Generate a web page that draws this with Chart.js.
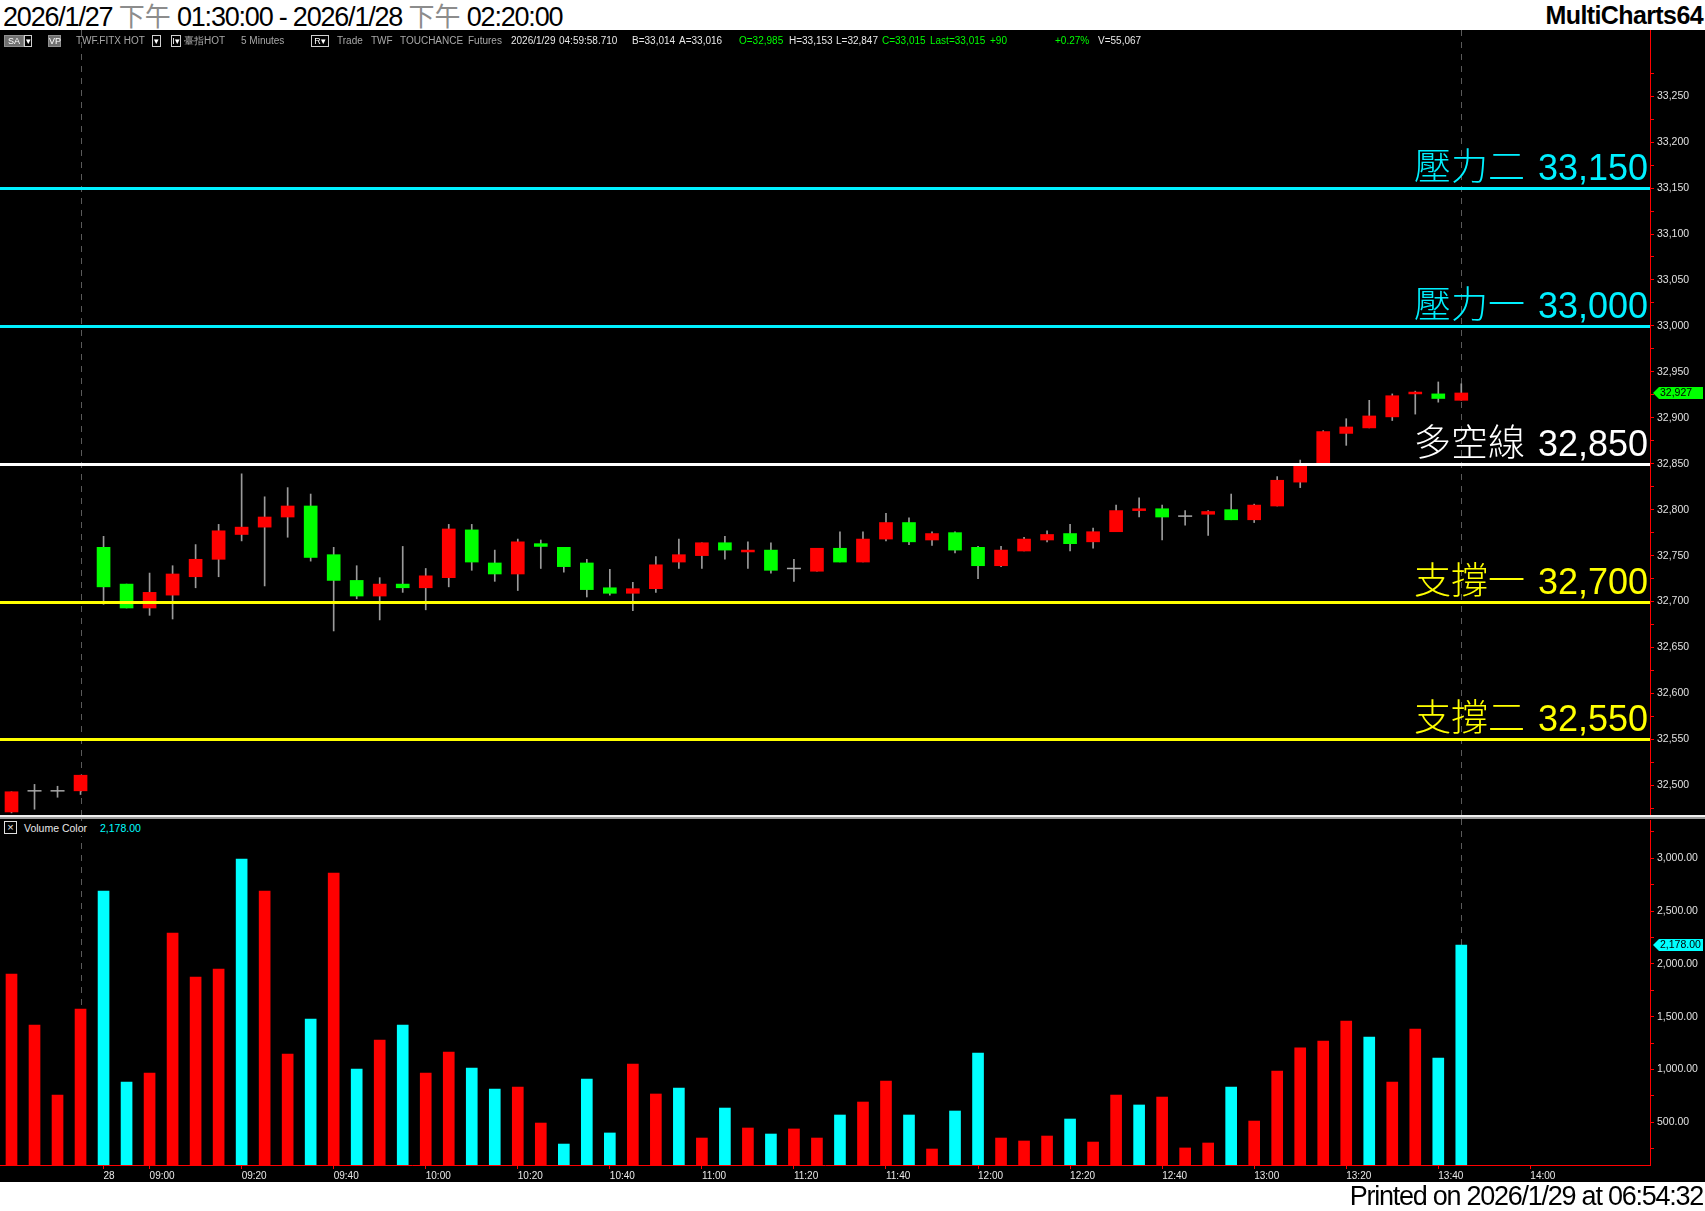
<!DOCTYPE html>
<html lang="zh-Hant">
<head>
<meta charset="utf-8">
<title>TWF.FITX HOT 5 Minutes</title>
<script src="https://cdn.jsdelivr.net/npm/chart.js@4.4.1/dist/chart.umd.min.js"></script>
<style>
  html, body { margin: 0; padding: 0; background: #fff; }
  #page { position: relative; width: 1705px; height: 1211px; overflow: hidden; background: #fff;
          font-family: "Liberation Sans", Arial, sans-serif; }
  .cjk { font-family: "Noto Sans CJK TC", "Noto Sans CJK SC", sans-serif; }
  #title { position: absolute; left: 3px; top: 0; font-size: 27px; line-height: 30px; color: #000;
           letter-spacing: -1.2px; white-space: nowrap; }
  #title .pm { color: #8c8c8c; font-size: 26px; letter-spacing: 0; }
  #brand { position: absolute; right: 2px; top: 0; font-size: 25px; line-height: 30px; font-weight: bold;
           letter-spacing: -0.6px; color: #000; }
  #black { position: absolute; left: 0; top: 30px; width: 1705px; height: 1152px; background: #000; }
  #toolbar { position: absolute; left: 0; top: 34px; width: 1650px; height: 14px; font-size: 10px;
             line-height: 14px; white-space: nowrap; }
  #toolbar span { position: absolute; top: 0; }
  #toolbar .box { top: 1px; height: 10px; line-height: 10px; font-size: 9px; text-align: center;
                  border: 1px solid #d0d0d0; color: #fff; }
  #toolbar .fill { background: #707070; border-color: #909090; }
  canvas { position: absolute; left: 0; }
  #priceCanvas { top: 30px; }
  #volCanvas { top: 819px; }
  #sep1 { position: absolute; left: 0; top: 815px; width: 1705px; height: 2px; background: #f0f0f0; }
  #sep2 { position: absolute; left: 0; top: 817px; width: 1705px; height: 2px; background: #9a9a9a; }
  #volLabel { position: absolute; left: 0; top: 821px; height: 15px; width: 150px; background: #000;
              font-size: 10.5px; line-height: 14px; color: #e8e8e8; }
  #volLabel span { position: absolute; top: 0; }
  #volLabel .xbox { left: 4px; top: 0; width: 11px; height: 11px; border: 1px solid #e0e0e0;
                    line-height: 11px; text-align: center; font-size: 11px; }
  #footer { position: absolute; right: 2px; top: 1182px; font-size: 27px; line-height: 29px;
            letter-spacing: -1.25px; color: #000; white-space: nowrap; }
</style>
</head>
<body>
<div id="page">
  <div id="title">2026/1/27 <span class="cjk pm">下午</span> 01:30:00 - 2026/1/28 <span class="cjk pm">下午</span> 02:20:00</div>
  <div id="brand">MultiCharts64</div>
  <div id="black"></div>
  <canvas id="priceCanvas" width="1705" height="785"></canvas>
  <canvas id="volCanvas" width="1705" height="363"></canvas>
  <div id="sep1"></div>
  <div id="sep2"></div>
  <div id="toolbar">
    <span class="box fill" style="left:4px;width:18px;">SA</span>
    <span class="box" style="left:24px;width:6px;">&#9662;</span>
    <span class="box fill" style="left:48px;width:11px;">VP</span>
    <span class="box" style="left:152px;width:7px;">&#9662;</span>
    <span class="box" style="left:171px;width:8px;">I&#9662;</span>
    <span class="box" style="left:311px;width:16px;">R&#9662;</span>
  </div>
  <div id="volLabel">
    <span class="xbox">&#215;</span>
    <span style="left:24px;">Volume Color</span>
    <span id="volLast" style="left:100px;color:#00ffff;"></span>
  </div>
  <div id="footer">Printed on 2026/1/29 at 06:54:32</div>
</div>
<script>
// 5 分 K：前一日最後 4 根 (13:30-13:45) + 1/28 08:50-13:45
const opens = [32471, 32494, 32494, 32494, 32759, 32719, 32693, 32707, 32727, 32746,
               32773, 32781, 32792, 32804, 32751, 32723, 32706, 32719, 32715, 32726,
               32778, 32742, 32730, 32763, 32759, 32742, 32715, 32709, 32714, 32743,
               32750, 32764, 32754, 32756, 32736, 32733, 32758, 32743, 32768, 32786,
               32767, 32775, 32759, 32739, 32755, 32767, 32774, 32765, 32776, 32799,
               32801, 32793, 32795, 32800, 32789, 32804, 32830, 32850, 32883, 32889,
               32901, 32926, 32926, 32919];
const highs = [32493, 32501, 32499, 32511, 32771, 32719, 32731, 32739, 32762, 32784,
               32839, 32814, 32824, 32817, 32759, 32739, 32726, 32760, 32736, 32784,
               32784, 32756, 32768, 32767, 32759, 32746, 32735, 32721, 32749, 32768,
               32764, 32771, 32765, 32764, 32746, 32758, 32776, 32776, 32796, 32791,
               32776, 32776, 32760, 32760, 32770, 32777, 32784, 32780, 32805, 32813,
               32805, 32799, 32799, 32817, 32806, 32836, 32854, 32886, 32899, 32919,
               32926, 32929, 32939, 32937];
const lows = [32470, 32474, 32487, 32490, 32697, 32693, 32685, 32681, 32715, 32727,
              32766, 32717, 32770, 32744, 32668, 32703, 32680, 32710, 32691, 32716,
              32734, 32722, 32712, 32736, 32732, 32705, 32707, 32690, 32710, 32736,
              32736, 32746, 32736, 32731, 32722, 32733, 32743, 32743, 32766, 32762,
              32761, 32753, 32725, 32738, 32755, 32765, 32755, 32758, 32776, 32792,
              32767, 32783, 32772, 32789, 32786, 32804, 32824, 32850, 32870, 32889,
              32897, 32904, 32917, 32919];
const closes = [32493, 32494, 32494, 32511, 32716, 32693, 32710, 32730, 32746, 32777,
                32781, 32792, 32804, 32748, 32723, 32706, 32719, 32715, 32728, 32779,
                32743, 32730, 32765, 32760, 32738, 32713, 32709, 32714, 32740, 32751,
                32764, 32756, 32756, 32734, 32736, 32758, 32743, 32768, 32786, 32765,
                32774, 32756, 32739, 32756, 32768, 32773, 32763, 32776, 32799, 32801,
                32792, 32793, 32798, 32789, 32805, 32832, 32849, 32885, 32890, 32902,
                32924, 32928, 32921, 32927];
const volumes = [1904, 1421, 758, 1573, 2690, 881, 967, 2293, 1876, 1952,
                 2993, 2690, 1147, 1478, 2861, 1005, 1279, 1421, 967, 1166,
                 1014, 815, 834, 493, 294, 910, 399, 1052, 768, 825,
                 351, 635, 446, 389, 437, 351, 569, 692, 891, 569,
                 247, 607, 1156, 351, 323, 370, 531, 313, 758, 664,
                 739, 257, 304, 834, 512, 986, 1204, 1270, 1459, 1308,
                 882, 1383, 1109, 2178];
// R = 紅量, C = 青量
const volSide = ['R','R','R','R','C','C','R','R','R','R',
                 'C','R','R','C','R','C','R','C','R','R',
                 'C','C','R','R','C','C','C','R','R','C',
                 'R','C','R','C','R','R','C','R','R','C',
                 'R','C','C','R','R','R','C','R','R','C',
                 'R','R','R','C','R','R','R','R','R','C',
                 'R','R','C','C'];

const timeTickSlots = [4, 6, 10, 14, 18, 22, 26, 30, 34, 38, 42, 46, 50, 54, 58, 62, 66];
const timeTickLabels = ['28', '09:00', '09:20', '09:40', '10:00', '10:20', '10:40', '11:00', '11:20',
                        '11:40', '12:00', '12:20', '12:40', '13:00', '13:20', '13:40', '14:00'];

const levelValues = [33150, 33000, 32850, 32700, 32550];
const levelNames = ['壓力二', '壓力一', '多空線', '支撐一', '支撐二'];
const levelColors = ['#00f0ff', '#00f0ff', '#ffffff', '#ffff00', '#ffff00'];

const markerSlots = [3, 63];   // 換日線 / 游標線
const slotMin = -0.5, slotMax = 71.2;
const priceMin = 32467.7, priceMax = 33298.1;
const volMin = 95.6, volMax = 3362.7;

const axisFont = { family: '"Liberation Sans", Arial, sans-serif', size: 10.5 };
const fmtInt = n => Math.round(n).toLocaleString('en-US');
const fmtVol = n => n.toLocaleString('en-US', { minimumFractionDigits: 2, maximumFractionDigits: 2 });

// toolbar texts
const headerItems = [
  ['TWF.FITX HOT', 76, '#a8a8a8'], ['臺指HOT', 184, '#a8a8a8'], ['5 Minutes', 241, '#a8a8a8'],
  ['Trade', 337, '#a8a8a8'], ['TWF', 371, '#a8a8a8'], ['TOUCHANCE', 400, '#a8a8a8'],
  ['Futures', 468, '#a8a8a8'], ['2026/1/29', 511, '#e8e8e8'], ['04:59:58.710', 559, '#e8e8e8'],
  ['B=33,014', 632, '#e8e8e8'], ['A=33,016', 679, '#e8e8e8'], ['O=32,985', 739, '#00ff00'],
  ['H=33,153', 789, '#e8e8e8'], ['L=32,847', 836, '#e8e8e8'], ['C=33,015', 882, '#00ff00'],
  ['Last=33,015', 930, '#00ff00'], ['+90', 990, '#00ff00'], ['+0.27%', 1055, '#00ff00'],
  ['V=55,067', 1098, '#e8e8e8']
];
const toolbar = document.getElementById('toolbar');
headerItems.forEach(([t, x, c]) => {
  const s = document.createElement('span');
  s.textContent = t;
  s.style.left = x + 'px';
  s.style.color = c;
  toolbar.appendChild(s);
});
document.getElementById('volLast').textContent = fmtVol(volumes[volumes.length - 1]);

const slots = opens.map((_, i) => i);
const bodySlots = slots.filter(i => opens[i] !== closes[i]);
const flatSlots = slots.filter(i => opens[i] === closes[i]);

const markerLines = {
  id: 'markerLines',
  beforeDatasetsDraw(chart) {
    const { ctx, chartArea, scales: { x } } = chart;
    ctx.save();
    ctx.strokeStyle = '#5a5a5a';
    ctx.lineWidth = 1;
    ctx.setLineDash([6, 6]);
    markerSlots.forEach(s => {
      const px = Math.round(x.getPixelForValue(s)) + 0.5;
      ctx.beginPath();
      ctx.moveTo(px, 0);
      ctx.lineTo(px, chartArea.bottom);
      ctx.stroke();
    });
    ctx.restore();
  }
};

const levelLines = {
  id: 'levelLines',
  afterDatasetsDraw(chart) {
    const { ctx, chartArea, scales: { y } } = chart;
    ctx.save();
    levelValues.forEach((v, i) => {
      const py = Math.round(y.getPixelForValue(v));
      ctx.fillStyle = levelColors[i];
      ctx.fillRect(chartArea.left, py - 1, chartArea.right - chartArea.left, 3);
      const num = fmtInt(v);
      ctx.textAlign = 'right';
      ctx.textBaseline = 'alphabetic';
      ctx.font = '36px "Liberation Sans", Arial, sans-serif';
      const w = ctx.measureText(num).width;
      ctx.fillText(num, chartArea.right - 2, py - 8);
      ctx.font = '300 37px "Noto Sans CJK TC", "Noto Sans CJK SC", sans-serif';
      ctx.fillText(levelNames[i], chartArea.right - 2 - w - 13, py - 8);
    });
    ctx.restore();
  },
  afterDraw(chart) {
    const { ctx, chartArea, scales: { y } } = chart;
    ctx.save();
    ctx.fillStyle = '#ff0000';
    ctx.fillRect(Math.round(chartArea.right), 0, 1, chartArea.top);
    drawTag(ctx, chartArea.right + 3, y.getPixelForValue(closes[closes.length - 1]),
            fmtInt(closes[closes.length - 1]), '#00ff00');
    ctx.restore();
  }
};

function drawTag(ctx, x0, yy, text, color) {
  ctx.fillStyle = color;
  ctx.beginPath();
  ctx.moveTo(x0, yy);
  ctx.lineTo(x0 + 6, yy - 6);
  ctx.lineTo(x0 + 50, yy - 6);
  ctx.lineTo(x0 + 50, yy + 6);
  ctx.lineTo(x0 + 6, yy + 6);
  ctx.closePath();
  ctx.fill();
  ctx.fillStyle = '#000';
  ctx.font = '10.5px "Liberation Sans", Arial, sans-serif';
  ctx.textAlign = 'left';
  ctx.textBaseline = 'middle';
  ctx.fillText(text, x0 + 7, yy + 0.5);
}

const volTag = {
  id: 'volTag',
  afterDraw(chart) {
    const { ctx, chartArea, scales: { y } } = chart;
    ctx.save();
    drawTag(ctx, chartArea.right + 3, y.getPixelForValue(volumes[volumes.length - 1]),
            fmtVol(volumes[volumes.length - 1]), '#00ffff');
    ctx.restore();
  }
};

const priceTicks = [];
for (let v = 32475; v <= 33275; v += 25) priceTicks.push(v);
const volTicks = [];
for (let v = 250; v <= 3250; v += 250) volTicks.push(v);

// keep label overflow from shrinking the plot area
const noEdgePadding = s => { s.paddingTop = 0; s.paddingBottom = 0; s.paddingLeft = 0; s.paddingRight = 0; };

const rightAxis = (min, max, tickList, label) => ({
  position: 'right',
  min, max,
  afterFit: s => { s.width = 55; noEdgePadding(s); },
  afterBuildTicks: s => { s.ticks = tickList.map(v => ({ value: v })); },
  ticks: { callback: label, color: '#e0e0e0', font: axisFont, padding: 3, autoSkip: false },
  grid: { drawOnChartArea: false, drawTicks: true, tickLength: 4, color: '#ff0000' },
  border: { display: true, color: '#ff0000' }
});

Chart.defaults.font.family = '"Liberation Sans", Arial, sans-serif';

new Chart(document.getElementById('priceCanvas'), {
  type: 'bar',
  data: {
    datasets: [
      {
        label: 'wick',
        data: slots.map(i => ({ x: i, y: [lows[i], highs[i]] })),
        backgroundColor: '#9a9a9a',
        barThickness: 1,
        grouped: false,
        order: 3
      },
      {
        label: 'body',
        data: bodySlots.map(i => ({ x: i, y: [opens[i], closes[i]] })),
        backgroundColor: bodySlots.map(i => closes[i] > opens[i] ? '#ff0000' : '#00ff00'),
        barThickness: 13,
        grouped: false,
        order: 2
      },
      {
        type: 'scatter',
        label: 'flat',
        data: flatSlots.map(i => ({ x: i, y: opens[i] })),
        pointStyle: 'line',
        radius: 7,
        borderColor: '#a8a8a8',
        borderWidth: 1.5,
        order: 1
      }
    ]
  },
  options: {
    responsive: false,
    animation: false,
    events: [],
    layout: { autoPadding: false, padding: { top: 22, bottom: 0, left: 0, right: 0 } },
    plugins: { legend: { display: false }, tooltip: { enabled: false } },
    scales: {
      x: { type: 'linear', min: slotMin, max: slotMax, offset: false, display: false },
      y: rightAxis(priceMin, priceMax, priceTicks, v => v % 50 === 0 ? fmtInt(v) : '')
    }
  },
  plugins: [markerLines, levelLines]
});

new Chart(document.getElementById('volCanvas'), {
  type: 'bar',
  data: {
    datasets: [{
      label: 'Volume',
      data: slots.map(i => ({ x: i, y: volumes[i] })),
      backgroundColor: slots.map(i => volSide[i] === 'R' ? '#ff0000' : '#00ffff'),
      barThickness: 11
    }]
  },
  options: {
    responsive: false,
    animation: false,
    events: [],
    layout: { autoPadding: false, padding: { top: 1, bottom: 0, left: 0, right: 0 } },
    plugins: { legend: { display: false }, tooltip: { enabled: false } },
    scales: {
      x: {
        type: 'linear', min: slotMin, max: slotMax, offset: false,
        afterFit: s => { s.height = 17; noEdgePadding(s); },
        afterBuildTicks: s => { s.ticks = timeTickSlots.map(v => ({ value: v })); },
        ticks: {
          callback: (v, i) => timeTickLabels[i],
          autoSkip: false, maxRotation: 0, minRotation: 0, align: 'start', padding: 1,
          color: '#e8e8e8', font: { size: 10 }
        },
        grid: { drawOnChartArea: false, drawTicks: true, tickLength: 4, color: '#ff0000', offset: false },
        border: { display: true, color: '#ff0000' }
      },
      y: rightAxis(volMin, volMax, volTicks, v => v % 500 === 0 ? fmtVol(v) : '')
    }
  },
  plugins: [markerLines, volTag]
});
</script>
</body>
</html>
